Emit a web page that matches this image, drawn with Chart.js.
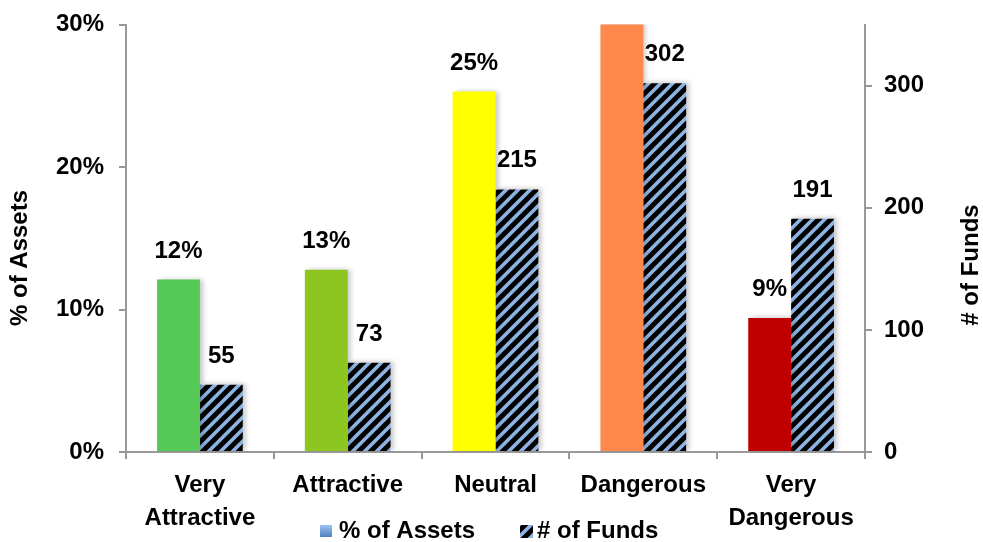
<!DOCTYPE html>
<html>
<head>
<meta charset="utf-8">
<script src="https://cdn.jsdelivr.net/npm/chart.js@4"></script>
<style>
html, body { margin: 0; padding: 0; background: #fff; }
</style>
</head>
<body>
<canvas id="chart" width="983" height="542"></canvas>
<script>
const categories = [["Very", "Attractive"], "Attractive", "Neutral", "Dangerous", ["Very", "Dangerous"]];
const assetShare = [12.1, 12.8, 25.3, 33, 9.4];
const fundCount = [55, 73, 215, 302, 191];
const assetTicks = [0, 10, 20, 30];
const fundTicks = [0, 100, 200, 300];
const barColors = ["#55C855", "#8DC620", "#FFFF00", "#FF884C", "#C00000"];

const FONT = "'Liberation Sans', Arial, sans-serif";

// black with light blue "/" stripes
function makeHatch() {
	const s = 12;
	const c = document.createElement("canvas");
	c.width = s;
	c.height = s;
	const g = c.getContext("2d");
	g.fillStyle = "#000";
	g.fillRect(0, 0, s, s);
	g.strokeStyle = "#8DB4E2";
	g.lineWidth = 3.6;
	g.beginPath();
	g.moveTo(-2, s + 2); g.lineTo(s + 2, -2);
	g.moveTo(-3, 3); g.lineTo(3, -3);
	g.moveTo(s - 3, s + 3); g.lineTo(s + 3, s - 3);
	g.stroke();
	return g.createPattern(c, "repeat");
}
const hatch = makeHatch();

const barShadow = {
	id: "barShadow",
	beforeDatasetsDraw(chart) {
		const ctx = chart.ctx;
		ctx.save();
		ctx.shadowColor = "rgba(0,0,0,0.22)";
		ctx.shadowBlur = 5;
		ctx.shadowOffsetX = 3;
		ctx.shadowOffsetY = -1;
	},
	afterDatasetsDraw(chart) {
		chart.ctx.restore();
	}
};

const valueLabels = {
	id: "valueLabels",
	afterDatasetsDraw(chart) {
		const ctx = chart.ctx;
		ctx.save();
		ctx.font = "bold 24px " + FONT;
		ctx.fillStyle = "#000";
		ctx.textAlign = "center";
		ctx.textBaseline = "alphabetic";
		chart.data.datasets.forEach((ds, i) => {
			const meta = chart.getDatasetMeta(i);
			const scale = chart.scales[ds.yAxisID];
			meta.data.forEach((bar, j) => {
				const v = ds.data[j];
				if (v > scale.max) return;
				const txt = i === 0 ? Math.round(v) + "%" : String(v);
				ctx.fillText(txt, bar.x, bar.y - 22);
			});
		});
		ctx.restore();
	}
};

// axis titles (both read bottom-to-top) and the legend row
const extras = {
	id: "extras",
	afterDraw(chart) {
		const ctx = chart.ctx;
		ctx.save();
		ctx.font = "bold 24px " + FONT;
		ctx.fillStyle = "#000";
		ctx.textAlign = "center";
		ctx.textBaseline = "middle";
		[["% of Assets", 20, 258], ["# of Funds", 971, 265]].forEach(([t, x, y]) => {
			ctx.save();
			ctx.translate(x, y);
			ctx.rotate(-Math.PI / 2);
			ctx.fillText(t, 0, 0);
			ctx.restore();
		});

		const y = 531;
		const grad = ctx.createLinearGradient(0, y - 6, 0, y + 6);
		grad.addColorStop(0, "#9DC3F0");
		grad.addColorStop(1, "#4F81BD");
		ctx.fillStyle = grad;
		ctx.fillRect(320, y - 6, 12, 12);
		ctx.fillStyle = hatch;
		ctx.fillRect(520, y - 6, 13, 13);
		ctx.fillStyle = "#000";
		ctx.textAlign = "left";
		ctx.fillText("% of Assets", 339, y);
		ctx.fillText("# of Funds", 537, y);
		ctx.restore();
	}
};

const yFont = { family: FONT, size: 24, weight: "bold", lineHeight: 0.8 };

new Chart(document.getElementById("chart"), {
	type: "bar",
	data: {
		labels: categories,
		datasets: [
			{
				label: "% of Assets",
				data: assetShare,
				backgroundColor: barColors,
				yAxisID: "y",
				categoryPercentage: 0.58,
				barPercentage: 1.0
			},
			{
				label: "# of Funds",
				data: fundCount,
				backgroundColor: hatch,
				yAxisID: "y1",
				categoryPercentage: 0.58,
				barPercentage: 1.0
			}
		]
	},
	options: {
		responsive: false,
		animation: false,
		layout: { padding: { top: 0, left: 0, right: 0, bottom: 0 } },
		scales: {
			x: {
				grid: { drawOnChartArea: false, tickLength: 7, color: "#999", lineWidth: 2 },
				border: { color: "#999", width: 2 },
				ticks: {
					color: "#000",
					font: { family: FONT, size: 24, weight: "bold", lineHeight: 1.38 },
					padding: 10,
					maxRotation: 0,
					autoSkip: false
				},
				afterFit: s => { s.height = 90; }
			},
			y: {
				position: "left",
				min: 0,
				max: 30,
				afterBuildTicks: axis => (axis.ticks = assetTicks.map(value => ({ value }))),
				grid: { drawOnChartArea: false, tickLength: 7, color: "#999", lineWidth: 2 },
				border: { color: "#999", width: 2 },
				ticks: { color: "#000", font: yFont, padding: 15, callback: v => v + "%" },
				afterFit: s => { s.width = 126; }
			},
			y1: {
				position: "right",
				min: 0,
				max: 350,
				afterBuildTicks: axis => (axis.ticks = fundTicks.map(value => ({ value }))),
				grid: { drawOnChartArea: false, tickLength: 7, color: "#999", lineWidth: 2 },
				border: { color: "#999", width: 2 },
				ticks: { color: "#000", font: yFont, padding: 12 },
				afterFit: s => { s.width = 118; }
			}
		},
		plugins: {
			legend: { display: false },
			tooltip: { enabled: false }
		}
	},
	plugins: [barShadow, valueLabels, extras]
});
</script>
</body>
</html>
